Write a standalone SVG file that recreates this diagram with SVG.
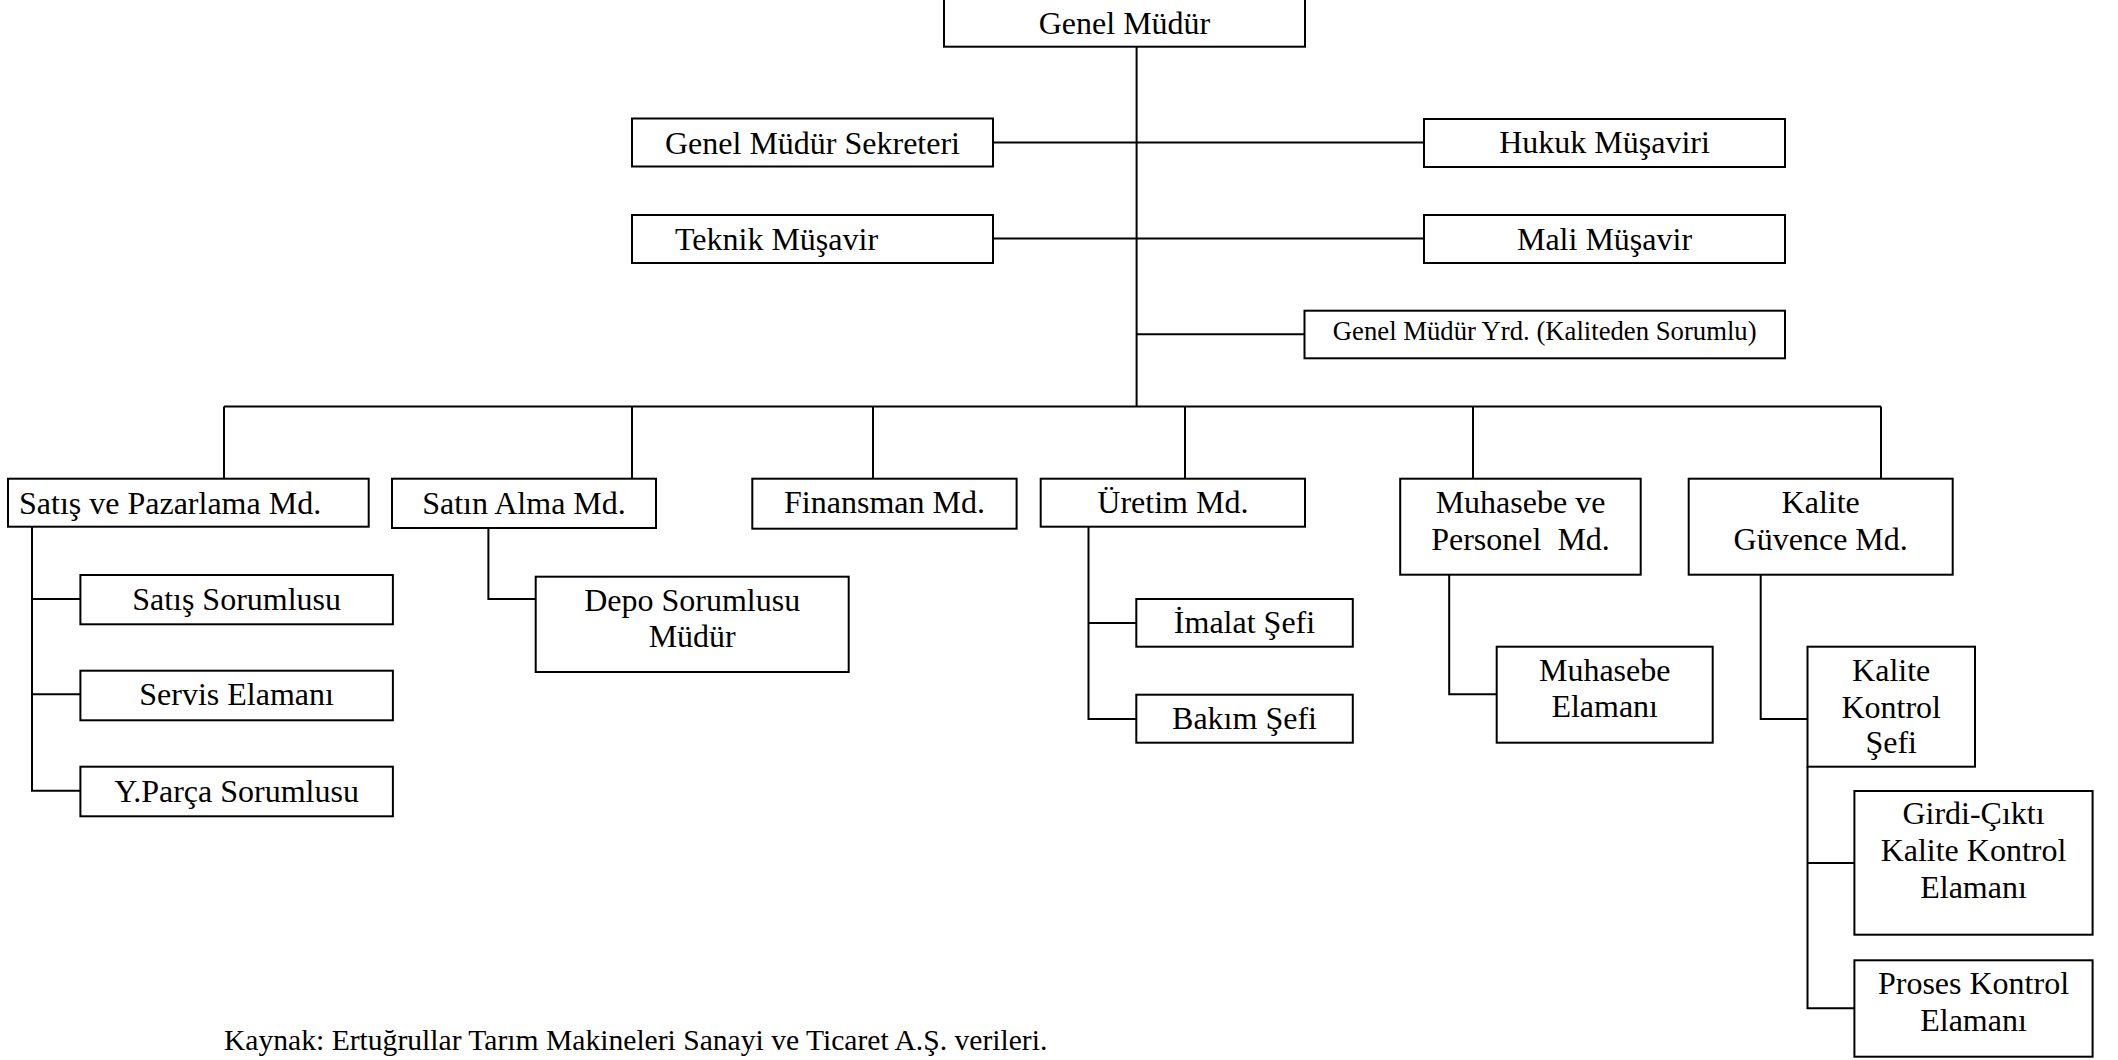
<svg xmlns="http://www.w3.org/2000/svg" width="2118" height="1060" viewBox="0 0 2118 1060">
<style>
rect.box{fill:#fff;stroke:#000;stroke-width:2}
.conn path{fill:none;stroke:#000;stroke-width:2}
text{font-family:"Liberation Serif","Times New Roman",serif;font-size:32px;fill:#000;text-anchor:middle;white-space:pre}
text.small{font-size:26.7px}
text.left{text-anchor:start}
text.note{font-size:29.6px;text-anchor:start}
</style>
<rect width="2118" height="1060" fill="#fff"/>
<g class="conn" id="connectors">
<path d="M1136.6 46.7V406.5"/>
<path d="M993 142.5H1424"/>
<path d="M993 238.5H1424"/>
<path d="M1136.6 334.3H1304.5"/>
<path d="M224 406.5H1881"/>
<path d="M224 406.5V478.7M632 406.5V478.7M873 406.5V478.7M1185 406.5V478.7M1473 406.5V478.7M1881 406.5V478.7"/>
<path d="M32 526.7V790.7H80.4M32 599H80.4M32 694.3H80.4"/>
<path d="M488.4 528V599H535.7"/>
<path d="M1088.5 526.7V719H1136.3M1088.5 623H1136.3"/>
<path d="M1449.2 574.7V694.3H1496.7"/>
<path d="M1760.7 574.7V719H1807.5"/>
<path d="M1807.5 766.7V1008.3H1854.4M1807.5 863H1854.4"/>
</g>
<g id="genel-mudur"><rect class="box" x="944" y="-10" width="361" height="56.7"/><text x="1124.5" y="34.3">Genel Müdür</text></g>
<g id="gm-sekreteri"><rect class="box" x="632" y="118.5" width="361" height="48"/><text x="812.5" y="154">Genel Müdür Sekreteri</text></g>
<g id="teknik-musavir"><rect class="box" x="632" y="215" width="361" height="48"/><text class="left" x="675" y="249.5">Teknik Müşavir</text></g>
<g id="hukuk-musaviri"><rect class="box" x="1424" y="119" width="361" height="48"/><text x="1604.5" y="153.3">Hukuk Müşaviri</text></g>
<g id="mali-musavir"><rect class="box" x="1424" y="215" width="361" height="48"/><text x="1604.5" y="250">Mali Müşavir</text></g>
<g id="gmy"><rect class="box" x="1304.5" y="310.7" width="480.5" height="47.6"/><text class="small" x="1544.7" y="340">Genel Müdür Yrd. (Kaliteden Sorumlu)</text></g>
<g id="satis-pazarlama"><rect class="box" x="8" y="478.7" width="360.7" height="48"/><text class="left" x="19" y="514">Satış ve Pazarlama Md.</text></g>
<g id="satin-alma"><rect class="box" x="392" y="478.7" width="264" height="49.3"/><text x="524" y="514">Satın Alma Md.</text></g>
<g id="finansman"><rect class="box" x="752.3" y="478.7" width="264.3" height="50"/><text x="884.5" y="513.3">Finansman Md.</text></g>
<g id="uretim"><rect class="box" x="1040.7" y="478.7" width="264.3" height="48"/><text x="1172.9" y="513.3">Üretim Md.</text></g>
<g id="muhasebe-personel"><rect class="box" x="1400.2" y="478.7" width="240.5" height="96"/><text x="1520.5" y="512.7">Muhasebe ve</text><text x="1520.5" y="550">Personel  Md.</text></g>
<g id="kalite-guvence"><rect class="box" x="1688.7" y="478.7" width="264" height="96"/><text x="1820.7" y="512.7">Kalite</text><text x="1820.7" y="550">Güvence Md.</text></g>
<g id="satis-sorumlusu"><rect class="box" x="80.4" y="575" width="312.5" height="49.3"/><text x="236.6" y="610">Satış Sorumlusu</text></g>
<g id="servis-elamani"><rect class="box" x="80.4" y="670.7" width="312.5" height="49.6"/><text x="236.6" y="705">Servis Elamanı</text></g>
<g id="yparca"><rect class="box" x="80.4" y="766.7" width="312.5" height="49.6"/><text x="236.6" y="801.7">Y.Parça Sorumlusu</text></g>
<g id="depo"><rect class="box" x="535.7" y="576.7" width="313" height="95.3"/><text x="692.2" y="610.7">Depo Sorumlusu</text><text x="692.2" y="646.7">Müdür</text></g>
<g id="imalat"><rect class="box" x="1136.3" y="599" width="216.5" height="47.7"/><text x="1244.5" y="633.3">İmalat Şefi</text></g>
<g id="bakim"><rect class="box" x="1136.3" y="694.7" width="216.5" height="48"/><text x="1244.5" y="729.3">Bakım Şefi</text></g>
<g id="muhasebe-elamani"><rect class="box" x="1496.7" y="646.7" width="216" height="96"/><text x="1604.7" y="680.7">Muhasebe</text><text x="1604.7" y="717.3">Elamanı</text></g>
<g id="kalite-kontrol-sefi"><rect class="box" x="1807.5" y="646.7" width="167.5" height="120"/><text x="1891.2" y="681">Kalite</text><text x="1891.2" y="717.7">Kontrol</text><text x="1891.2" y="753.3">Şefi</text></g>
<g id="girdi-cikti"><rect class="box" x="1854.4" y="791" width="238.2" height="143.7"/><text x="1973.5" y="824">Girdi-Çıktı</text><text x="1973.5" y="861">Kalite Kontrol</text><text x="1973.5" y="898.3">Elamanı</text></g>
<g id="proses"><rect class="box" x="1854.4" y="960.3" width="238.2" height="96.4"/><text x="1973.5" y="994.3">Proses Kontrol</text><text x="1973.5" y="1031">Elamanı</text></g>
<text class="note" x="224" y="1050">Kaynak: Ertuğrullar Tarım Makineleri Sanayi ve Ticaret A.Ş. verileri.</text>
</svg>
